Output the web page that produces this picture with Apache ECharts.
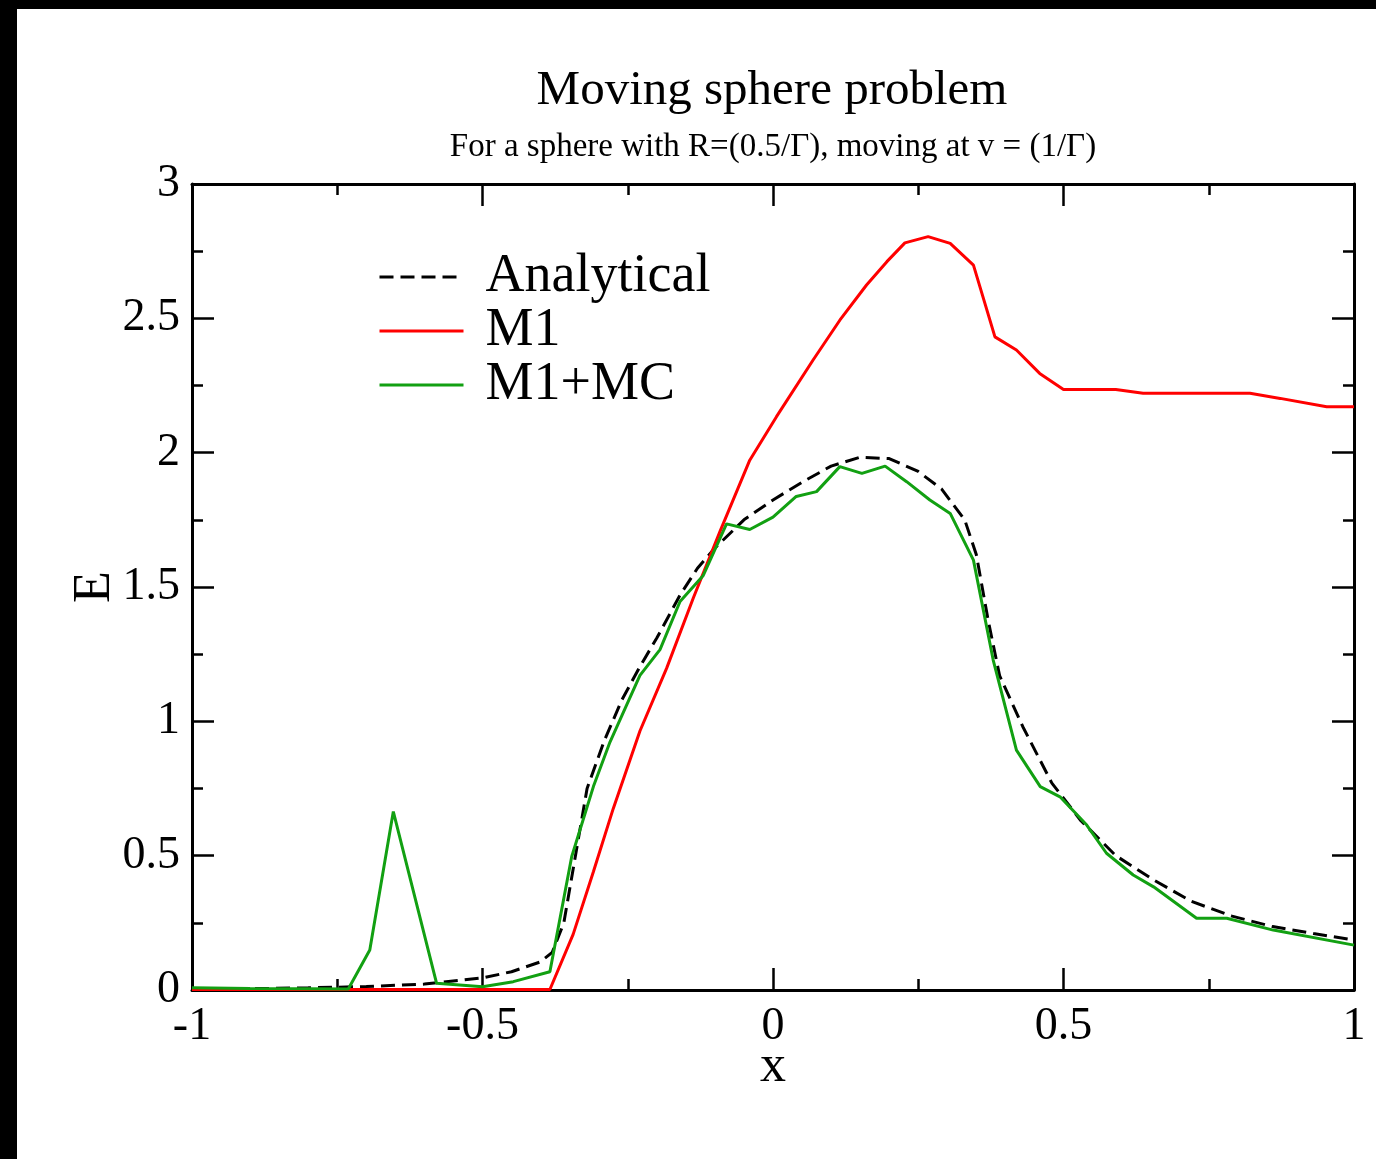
<!DOCTYPE html>
<html>
<head>
<meta charset="utf-8">
<script src="https://cdn.jsdelivr.net/npm/echarts@6/dist/echarts.min.js"></script>
<style>
html,body{margin:0;padding:0;background:#fff;}
#chart{width:1376px;height:1159px;}
</style>
</head>
<body>
<div id="chart"></div>
<script>
// ---- Data ----
const titleText = 'Moving sphere problem';
const subtitleText = 'For a sphere with R=(0.5/\u0393), moving at v = (1/\u0393)';
const seriesNames = ['Analytical', 'M1', 'M1+MC'];

const analyticalX = [-1, -0.9, -0.8, -0.7, -0.6, -0.5, -0.45, -0.4, -0.38, -0.36, -0.34, -0.32, -0.29, -0.26, -0.23, -0.2, -0.16, -0.13, -0.1, -0.05, 0, 0.05, 0.1, 0.15, 0.2, 0.25, 0.29, 0.33, 0.35, 0.37, 0.39, 0.43, 0.48, 0.53, 0.59, 0.655, 0.72, 0.79, 0.86, 0.93, 1.0];
const analyticalE = [0.003, 0.005, 0.008, 0.013, 0.022, 0.045, 0.068, 0.105, 0.14, 0.25, 0.5, 0.75, 0.93, 1.08, 1.2, 1.31, 1.47, 1.57, 1.645, 1.75, 1.824, 1.89, 1.95, 1.983, 1.978, 1.93, 1.865, 1.75, 1.62, 1.38, 1.17, 0.98, 0.77, 0.63, 0.5, 0.41, 0.33, 0.275, 0.236, 0.21, 0.186];

const m1X = [-1, -0.384, -0.344, -0.309, -0.275, -0.229, -0.183, -0.137, -0.091, -0.04, 0.006, 0.069, 0.115, 0.161, 0.196, 0.227, 0.267, 0.305, 0.345, 0.382, 0.419, 0.459, 0.5, 0.59, 0.637, 0.821, 0.873, 0.953, 1.0];
const m1E = [0.002, 0.002, 0.207, 0.441, 0.675, 0.964, 1.198, 1.46, 1.708, 1.972, 2.134, 2.345, 2.493, 2.624, 2.711, 2.781, 2.804, 2.779, 2.698, 2.431, 2.382, 2.295, 2.235, 2.235, 2.221, 2.221, 2.202, 2.171, 2.171];

const mcX = [-1, -0.9, -0.8, -0.731, -0.694, -0.6535, -0.579, -0.5, -0.447, -0.384, -0.3465, -0.309, -0.2806, -0.229, -0.1945, -0.16, -0.12, -0.08, -0.04, 0.0, 0.04, 0.075, 0.115, 0.153, 0.193, 0.23, 0.27, 0.305, 0.345, 0.379, 0.419, 0.46, 0.494, 0.54, 0.574, 0.62, 0.655, 0.729, 0.781, 0.861, 1.0];
const mcE = [0.008, 0.006, 0.005, 0.004, 0.149, 0.664, 0.025, 0.012, 0.031, 0.068, 0.496, 0.758, 0.923, 1.171, 1.267, 1.446, 1.543, 1.735, 1.714, 1.76, 1.837, 1.855, 1.948, 1.923, 1.95, 1.892, 1.824, 1.774, 1.6, 1.228, 0.893, 0.757, 0.719, 0.614, 0.509, 0.428, 0.384, 0.267, 0.267, 0.223, 0.167];

const xMin = -1, xMax = 1, xStep = 0.5;
const yMin = 0, yMax = 3, yStep = 0.5;

// ---- Chart ----
const pairs = (xs, ys) => xs.map((x, i) => [x, ys[i]]);
const serif = '"Liberation Serif", "DejaVu Serif", serif';

function axisCommon(showLabels, margin) {
  return {
    axisLine: { show: true, onZero: false, lineStyle: { color: '#000', width: 3 } },
    axisTick: { show: true, inside: true, length: 22, lineStyle: { color: '#000', width: 2.5 } },
    minorTick: { show: true, splitNumber: 2, length: 11, lineStyle: { color: '#000', width: 2.5 } },
    splitLine: { show: false },
    minorSplitLine: { show: false },
    axisLabel: { show: showLabels, color: '#000', fontSize: 46, fontFamily: serif, margin: margin || 10 }
  };
}

const chart = echarts.init(document.getElementById('chart'), null, { renderer: 'canvas' });
chart.setOption({
  backgroundColor: '#fff',
  animation: false,
  title: [
    { text: titleText, left: 767, textAlign: 'center', top: 62,
      textStyle: { fontFamily: serif, fontSize: 49, fontWeight: 'normal', color: '#000' } },
    { text: subtitleText, left: 768, textAlign: 'center', top: 126,
      textStyle: { fontFamily: serif, fontSize: 33, fontWeight: 'normal', color: '#000' } }
  ],
  legend: {
    orient: 'vertical', left: 378, top: 250, padding: 0,
    itemWidth: 84, itemHeight: 20, itemGap: 0,
    data: seriesNames,
    itemStyle: { opacity: 0 },
    lineStyle: { width: 3 },
    textStyle: { fontFamily: serif, fontSize: 54, lineHeight: 53, color: '#000', padding: [0, 0, 0, 17] }
  },
  grid: { left: 192, top: 184, width: 1162, height: 806, containLabel: false },
  xAxis: [
    Object.assign({ type: 'value', position: 'bottom', min: xMin, max: xMax, interval: xStep,
      name: 'x', nameLocation: 'middle', nameGap: 51, nameMoveOverlap: false,
      nameTextStyle: { fontFamily: serif, fontSize: 52, color: '#000' } }, axisCommon(true, 14)),
    Object.assign({ type: 'value', position: 'top', min: xMin, max: xMax, interval: xStep }, axisCommon(false))
  ],
  yAxis: [
    Object.assign({ type: 'value', position: 'left', min: yMin, max: yMax, interval: yStep,
      name: 'E', nameLocation: 'middle', nameGap: 71, nameMoveOverlap: false,
      nameTextStyle: { fontFamily: serif, fontSize: 52, color: '#000' } }, axisCommon(true, 12)),
    Object.assign({ type: 'value', position: 'right', min: yMin, max: yMax, interval: yStep }, axisCommon(false))
  ],
  series: [
    { name: seriesNames[0], type: 'line', xAxisIndex: 0, yAxisIndex: 0, symbol: 'none',
      data: pairs(analyticalX, analyticalE), z: 2,
      lineStyle: { color: '#000', width: 3, type: [14, 7] }, itemStyle: { color: '#000' } },
    { name: seriesNames[1], type: 'line', xAxisIndex: 0, yAxisIndex: 0, symbol: 'none',
      data: pairs(m1X, m1E), z: 3,
      lineStyle: { color: '#ff0000', width: 3 }, itemStyle: { color: '#ff0000' } },
    { name: seriesNames[2], type: 'line', xAxisIndex: 0, yAxisIndex: 0, symbol: 'none',
      data: pairs(mcX, mcE), z: 4,
      lineStyle: { color: '#12a012', width: 3 }, itemStyle: { color: '#12a012' } }
  ],
  graphic: [
    { type: 'rect', left: 0, top: 0, shape: { width: 1376, height: 9 }, style: { fill: '#000' }, silent: true },
    { type: 'rect', left: 0, top: 0, shape: { width: 17, height: 1159 }, style: { fill: '#000' }, silent: true }
  ]
});
</script>
</body>
</html>
